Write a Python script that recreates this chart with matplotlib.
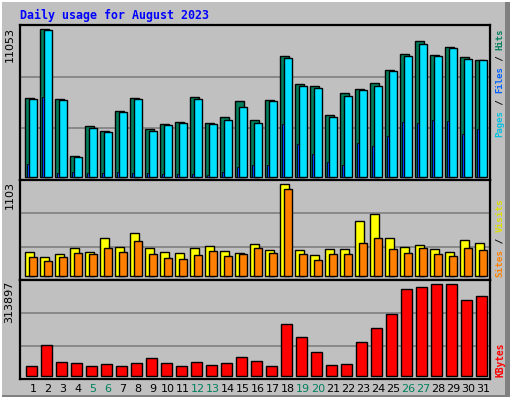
import matplotlib.pyplot as plt
from matplotlib.patches import Rectangle

days = list(range(1, 32))
weekends = [5, 6, 12, 13, 19, 20, 26, 27]

hits = [5877, 11053, 5802, 1600, 3851, 3476, 4976, 5877, 3626, 4001, 4151, 5952, 4076, 4526, 5651, 4301,
        5727, 9027, 6927, 6777, 4676, 6252, 6552, 7002, 7977, 9177, 10153, 9102, 9703, 8952, 8727]
files = [5802, 10978, 5727, 1525, 3701, 3401, 4901, 5802, 3476, 3926, 4076, 5802, 4001, 4301, 5276, 4076,
         5651, 8877, 6777, 6627, 4526, 6027, 6477, 6777, 7902, 9027, 9928, 9027, 9628, 8802, 8727]
pages = [1000, 5952, 325, 400, 325, 325, 400, 325, 325, 250, 250, 250, 175, 400, 775, 925,
         925, 4001, 2500, 1750, 1150, 925, 2575, 2350, 3100, 4151, 4076, 4301, 4226, 3251, 3626]
visits = [288, 228, 264, 336, 288, 456, 348, 516, 336, 288, 276, 336, 360, 300, 276, 384,
          312, 1103, 312, 252, 324, 324, 659, 743, 456, 348, 372, 324, 288, 432, 396]
sites = [228, 180, 228, 276, 264, 336, 288, 420, 264, 216, 204, 252, 300, 240, 264, 336,
         276, 1043, 264, 192, 264, 264, 396, 456, 324, 276, 336, 264, 240, 336, 312]
kbytes = [32195, 103483, 48293, 44843, 34494, 41393, 34494, 44843, 62090, 44843, 34494, 48293, 37944,
          44843, 65540, 51742, 34494, 175919, 131078, 82785, 37944, 41393, 113832, 162121, 210413,
          296650, 303548, 313897, 313897, 258706, 272504]

W, H = 512, 400
BG = '#C0C0C0'
fig = plt.figure(figsize=(W / 100, H / 100), dpi=100, facecolor='white')

# frame: gray body with dark shadow right/bottom (behind the axes)
for rect, col in (((2, 3, 508, 395), '#808080'), ((2, 5, 503, 393), BG)):
    x, y, w, h = rect
    fig.patches.append(Rectangle((x / W, y / H), w / W, h / H, transform=fig.transFigure,
                                 facecolor=col, edgecolor='none', zorder=-5))


def px_axes(top, bottom):
    return fig.add_axes([20 / W, 1 - bottom / H, 470 / W, (bottom - top) / H])


def style(ax, ylim):
    ax.set_facecolor(BG)
    ax.set_xlim(0.133, 31.47)
    ax.set_ylim(*ylim)
    ax.set_xticks([])
    ax.set_yticks([])
    for s in ax.spines.values():
        s.set_linewidth(1.6)
    for f in (1 / 3, 2 / 3):
        ax.axhline(ylim[0] + f * (ylim[1] - ylim[0]), color='#808080', lw=1.2, zorder=0)


def bars(ax, offset, width, vals, color, lw=1.0):
    ax.bar([d + offset for d in days], vals, width=width, align='edge',
           color=color, edgecolor='black', linewidth=lw, zorder=2)


ax1 = px_axes(25, 180)
style(ax1, (-224, 11375))
bars(ax1, -0.51, 0.55, hits, '#00805C')
bars(ax1, -0.29, 0.55, files, '#00E0FF')
bars(ax1, -0.42, 0.15, pages, '#0040FF', lw=0.6)

ax2 = px_axes(180, 280)
style(ax2, (-44, 1151))
bars(ax2, -0.51, 0.55, visits, '#FFFF00')
bars(ax2, -0.29, 0.55, sites, '#FF8000')

ax3 = px_axes(280, 379)
style(ax3, (-11727, 328700))
bars(ax3, -0.45, 0.69, kbytes, '#FF0000')

# x day labels
for d in days:
    ax3.text(d, -0.1, str(d), transform=ax3.get_xaxis_transform(), ha='center', va='center',
             fontsize=8, color='#00805C' if d in weekends else 'black')

fig.text(20 / W, 1 - 15 / H, 'Daily usage for August 2023', color='#0000FF',
         family='DejaVu Sans Mono', weight='bold', fontsize=8.4, va='center')

# max labels on the left
for ax, lab in ((ax1, str(max(hits))), (ax2, str(max(visits))), (ax3, str(max(kbytes)))):
    ax.text(-0.012, 0.99, lab, transform=ax.transAxes, rotation=90, ha='right', va='top', fontsize=8)


def side_label(bottom_px, parts, cw):
    size = cw / 0.602 * 72 / 100
    y = bottom_px
    for txt, col in parts:
        fig.text(500 / W, 1 - y / H, txt, color=col, rotation=90, ha='center', va='bottom',
                 family='DejaVu Sans Mono', fontsize=size, weight='bold')
        y -= cw * len(txt)


side_label(137, [('Pages', '#00C0E0'), (' / ', '#000000'), ('Files', '#0060FF'),
                 (' / ', '#000000'), ('Hits', '#00805C')], 5.45)
side_label(277, [('Sites', '#FF8000'), (' / ', '#000000'), ('Visits', '#E0E000')], 5.6)
side_label(377, [('KBytes', '#FF0000')], 5.8)

fig.savefig('out.png', dpi=100, facecolor='white')
